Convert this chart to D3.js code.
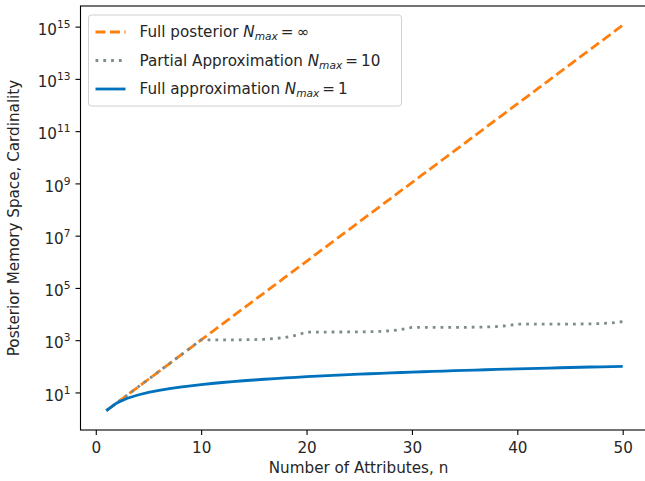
<!DOCTYPE html>
<html>
<head>
<meta charset="utf-8">
<script src="https://cdn.jsdelivr.net/npm/d3@7"></script>
<style>
  body { margin: 0; background: #fff; }
  svg { display: block; font-family: "DejaVu Sans", sans-serif; }
</style>
</head>
<body>
<script>
// number of attributes
const attributes = [1, 2, 3, 4, 5, 6, 7, 8, 9, 10,
  11, 12, 13, 14, 15, 16, 17, 18, 19, 20,
  21, 22, 23, 24, 25, 26, 27, 28, 29, 30,
  31, 32, 33, 34, 35, 36, 37, 38, 39, 40,
  41, 42, 43, 44, 45, 46, 47, 48, 49, 50];

// Full posterior, N_max = inf
const fullPosterior = [2, 4, 8, 16, 32, 64, 128, 256, 512, 1024,
  2048, 4096, 8192, 16384, 32768, 65536, 131072, 262144, 524288, 1048576,
  2097152, 4194304, 8388608, 16777216, 33554432, 67108864, 134217728, 268435456, 536870912, 1073741824,
  2147483648, 4294967296, 8589934592, 17179869184, 34359738368, 68719476736, 137438953472, 274877906944, 549755813888, 1099511627776,
  2199023255552, 4398046511104, 8796093022208, 17592186044416, 35184372088832, 70368744177664, 140737488355328, 281474976710656, 562949953421312, 1125899906842624];

// Partial approximation, N_max = 10
const partialApprox = [2, 4, 8, 16, 32, 64, 128, 256, 512, 1024,
  1026, 1028, 1032, 1040, 1056, 1088, 1152, 1280, 1536, 2049,
  2050, 2052, 2056, 2064, 2080, 2112, 2176, 2304, 2560, 3073,
  3074, 3076, 3080, 3088, 3104, 3136, 3200, 3328, 3584, 4097,
  4098, 4100, 4104, 4112, 4128, 4160, 4224, 4352, 4608, 5121];

// Full approximation, N_max = 1
const fullApprox = [2, 4, 6, 8, 10, 12, 14, 16, 18, 20,
  22, 24, 26, 28, 30, 32, 34, 36, 38, 40,
  42, 44, 46, 48, 50, 52, 54, 56, 58, 60,
  62, 64, 66, 68, 70, 72, 74, 76, 78, 80,
  82, 84, 86, 88, 90, 92, 94, 96, 98, 100];

const xTicks = [0, 10, 20, 30, 40, 50];
const yTickExps = [1, 3, 5, 7, 9, 11, 13, 15];

const width = 645, height = 481;
const margin = { left: 80.5, top: 6, right: 648.5, bottom: 430 };
const fontSize = 15.2;

const svg = d3.select("body").append("svg")
  .attr("width", width)
  .attr("height", height);

const x = d3.scaleLinear().domain([-1.45, 52.45]).range([margin.left, margin.right]);
const y = d3.scaleLog().domain([Math.pow(10, -0.437), Math.pow(10, 15.789)]).range([margin.bottom, margin.top]);

const series = [
  { name: "Full posterior", nmax: "\u221E", values: fullPosterior, color: "#ff7f0e", dash: "10,4.4" },
  { name: "Partial Approximation", nmax: "10", values: partialApprox, color: "#7f8c8d", dash: "2.8,5" },
  { name: "Full approximation", nmax: "1", values: fullApprox, color: "#0072bd", dash: null }
];

const line = d3.line()
  .x((d, i) => x(attributes[i]))
  .y(d => y(d));

const plot = svg.append("g");

series.forEach(s => {
  plot.append("path")
    .datum(s.values)
    .attr("fill", "none")
    .attr("stroke", s.color)
    .attr("stroke-width", 2.8)
    .attr("stroke-dasharray", s.dash)
    .attr("d", line);
});

// axes
const xAxis = svg.append("g")
  .attr("transform", `translate(0,${margin.bottom})`)
  .call(d3.axisBottom(x).tickValues(xTicks).tickSizeOuter(0).tickSize(5).tickPadding(5));

const yAxis = svg.append("g")
  .attr("transform", `translate(${margin.left},0)`)
  .call(d3.axisLeft(y).tickValues(yTickExps.map(e => Math.pow(10, e))).tickSizeOuter(0).tickSize(5).tickPadding(5));

[xAxis, yAxis].forEach(a => {
  a.select(".domain").remove();
  a.selectAll(".tick line").attr("stroke", "#000").attr("stroke-width", 1.1);
  a.selectAll("text").attr("fill", "#262626").attr("font-size", fontSize).attr("font-family", "DejaVu Sans, sans-serif");
});
xAxis.selectAll("text").attr("dy", "0.85em");

// superscript exponents on y labels
yAxis.selectAll(".tick text").each(function(d) {
  const t = d3.select(this);
  const exp = Math.round(Math.log10(d));
  t.text("");
  t.attr("dy", "0.5em");
  t.append("tspan").text("10");
  t.append("tspan").attr("dy", -7).attr("font-size", 10.6).text(exp);
});

// frame
svg.append("rect")
  .attr("x", margin.left)
  .attr("y", margin.top)
  .attr("width", margin.right - margin.left)
  .attr("height", margin.bottom - margin.top)
  .attr("fill", "none")
  .attr("stroke", "#000")
  .attr("stroke-width", 1.1);

// axis labels
svg.append("text")
  .attr("x", (margin.left + margin.right) / 2 - 6)
  .attr("y", 473)
  .attr("text-anchor", "middle")
  .attr("font-size", fontSize)
  .attr("fill", "#262626")
  .text("Number of Attributes, n");

svg.append("text")
  .attr("transform", `translate(19,${(margin.top + margin.bottom) / 2}) rotate(-90)`)
  .attr("text-anchor", "middle")
  .attr("font-size", fontSize)
  .attr("fill", "#262626")
  .text("Posterior Memory Space, Cardinality");

// legend
const legend = svg.append("g").attr("transform", "translate(88.5,15)");
legend.append("rect")
  .attr("width", 313)
  .attr("height", 91)
  .attr("rx", 3)
  .attr("fill", "#fff")
  .attr("fill-opacity", 0.8)
  .attr("stroke", "#d0d0d0")
  .attr("stroke-width", 1);

series.forEach((s, i) => {
  const row = legend.append("g").attr("transform", `translate(0,${17 + i * 28.5})`);
  row.append("line")
    .attr("x1", 7).attr("x2", 37)
    .attr("stroke", s.color)
    .attr("stroke-width", 2.8)
    .attr("stroke-dasharray", s.dash);
  const txt = row.append("text")
    .attr("x", 51)
    .attr("dy", "0.35em")
    .attr("font-size", fontSize)
    .attr("fill", "#262626");
  txt.append("tspan").text(s.name + " ");
  txt.append("tspan").attr("font-style", "italic").text("N");
  txt.append("tspan").attr("font-style", "italic").attr("font-size", 10.6).attr("dy", 3).text("max");
  txt.append("tspan").attr("dy", -3).text("\u2009=\u2009" + s.nmax);
});
</script>
</body>
</html>
